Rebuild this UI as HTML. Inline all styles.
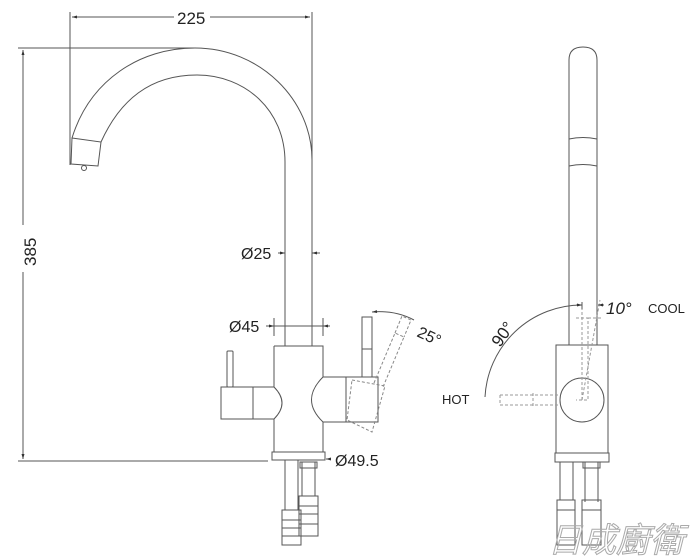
<!DOCTYPE html>
<html><head><meta charset="utf-8"><style>
html,body{margin:0;padding:0;background:#fff;width:700px;height:557px;overflow:hidden}
svg{display:block}
text{font-family:"Liberation Sans",sans-serif;fill:#222}
</style></head><body>
<svg width="700" height="557" viewBox="0 0 700 557" xmlns="http://www.w3.org/2000/svg">
<defs>
<marker id="ar" viewBox="0 0 10 10" refX="10" refY="5" markerWidth="7" markerHeight="5" orient="auto-start-reverse"><path d="M0,2 L10,5 L0,8z" fill="#333"/></marker>
</defs>
<g fill="none" stroke="#555" stroke-width="1">
<line x1="70" y1="12" x2="70" y2="165"/>
<line x1="312" y1="12" x2="312" y2="160"/>
<line x1="72" y1="17" x2="174" y2="17" marker-start="url(#ar)"/>
<line x1="210" y1="17" x2="310" y2="17" marker-end="url(#ar)"/>
<line x1="18" y1="48" x2="195" y2="48"/>
<line x1="18" y1="461" x2="268" y2="461"/>
<line x1="23" y1="50" x2="23" y2="225" marker-start="url(#ar)"/>
<line x1="23" y1="272" x2="23" y2="459" marker-end="url(#ar)"/>
<path d="M72,138 C90,80 140,48 195,48 C260,48 312,100 312,160 L312,346"/>
<path d="M101,142 C120,100 150,75 197,75 C245,75 285,110 285,162 L285,346"/>
<path d="M72,138 L101,142 L98,166 L71,164 Z"/>
<circle cx="84" cy="168" r="2.5"/>
<line x1="278" y1="253" x2="285" y2="253" marker-end="url(#ar)"/>
<line x1="320" y1="253" x2="312" y2="253" marker-end="url(#ar)"/>
<line x1="274" y1="318" x2="274" y2="336"/><line x1="323" y1="318" x2="323" y2="336"/>
<line x1="266" y1="326" x2="274" y2="326" marker-end="url(#ar)"/>
<line x1="274" y1="326" x2="323" y2="326"/>
<line x1="330" y1="326" x2="323" y2="326" marker-end="url(#ar)"/>
<path d="M274,346 L323,346 L323,377 M323,422 L323,452 L274,452 L274,419 M274,387 L274,346"/>
<rect x="272" y="452" width="53" height="8"/>
<line x1="330" y1="459" x2="326" y2="459" marker-end="url(#ar)"/>
<path d="M274,387 L221,387 L221,419 L274,419 Q290,403 274,387"/>
<line x1="253" y1="387" x2="253" y2="419"/>
<rect x="227" y="351" width="6" height="36" rx="1"/>
<path d="M323,377 L378,377 L378,422 L323,422 Q300,400 323,377"/>
<line x1="346" y1="377" x2="346" y2="422"/>
<rect x="362" y="317" width="10" height="60"/>
<line x1="362" y1="349" x2="372" y2="349"/>
<g stroke-dasharray="3,2" stroke="#888">
<path d="M352,380 L385,386 L372,432 L347,420 Z"/>
<path d="M374,383 L395,333 L404,337 L383,387"/>
<path d="M395,333 L402,316 L411,320 L404,337"/>
</g>
<path d="M372,312 Q395,310 414,320" marker-start="url(#ar)"/>
<path d="M285,460 L285,510 M298,460 L298,510"/>
<path d="M282,510 h19 v35 h-19z M282,520 h19 M282,528 h19 M282,536 h19"/>
<path d="M302,462 L302,496 M315,462 L315,496"/>
<path d="M300,462 h17 v6 h-17z"/>
<path d="M299,496 h19 v40 h-19z M299,506 h19 M299,514 h19 M299,524 h19"/>
<path d="M569,345 L569,60 Q569,47 583,47 Q597,47 597,60 L597,345"/>
<path d="M569,139 Q583,136 597,139"/>
<path d="M569,166 Q583,163 597,166"/>
<rect x="556" y="345" width="52" height="108"/>
<rect x="555" y="453" width="54" height="9"/>
<circle cx="582" cy="400" r="22"/>
<g stroke="#999" stroke-dasharray="3,2">
<path d="M576,318 L588,318 L588,400 L576,400"/>
<path d="M500,395 L560,395 M500,405 L560,405 M533,393 L533,407 M500,395 L500,405"/>
<line x1="582" y1="400" x2="582" y2="300"/>
<line x1="582" y1="400" x2="600" y2="300"/>
<line x1="588" y1="318" x2="603" y2="318"/>
</g>
<path d="M485,397 A97,97 0 0 1 582,305" />
<line x1="576" y1="305" x2="582" y2="305" marker-end="url(#ar)"/>
<line x1="604" y1="305" x2="598" y2="305" marker-end="url(#ar)"/>
<line x1="582" y1="302" x2="582" y2="309"/>
<line x1="560" y1="500" x2="560" y2="462"/><line x1="573" y1="500" x2="573" y2="462"/>
<path d="M557,500 h18 v45 h-18z M557,510 h18"/>
<path d="M585,462 v40 M598,462 v40 M583,462 h17 v6 h-17z M582,500 h19 v45 h-19z M582,510 h19"/>
</g>
<text x="177" y="24" font-size="17">225</text>
<text x="36" y="266" font-size="17" transform="rotate(-90 36 266)">385</text>
<text x="241" y="259" font-size="16">Ø25</text>
<text x="229" y="332" font-size="16">Ø45</text>
<text x="335" y="466" font-size="16">Ø49.5</text>
<text x="416" y="336" font-size="16" transform="rotate(25 416 336)">25°</text>
<text x="500" y="348" font-size="17" transform="rotate(-55 500 348)">90°</text>
<text x="606" y="314" font-size="17" font-style="italic">10°</text>
<text x="648" y="313" font-size="13">COOL</text>
<text x="442" y="404" font-size="13">HOT</text>
<text x="548" y="552" font-size="34" font-style="italic" style="font-family:'Liberation Sans','Noto Sans CJK TC',sans-serif;fill:none;stroke:#aaa;stroke-width:1">日成廚衛</text>
</svg>
</body></html>
